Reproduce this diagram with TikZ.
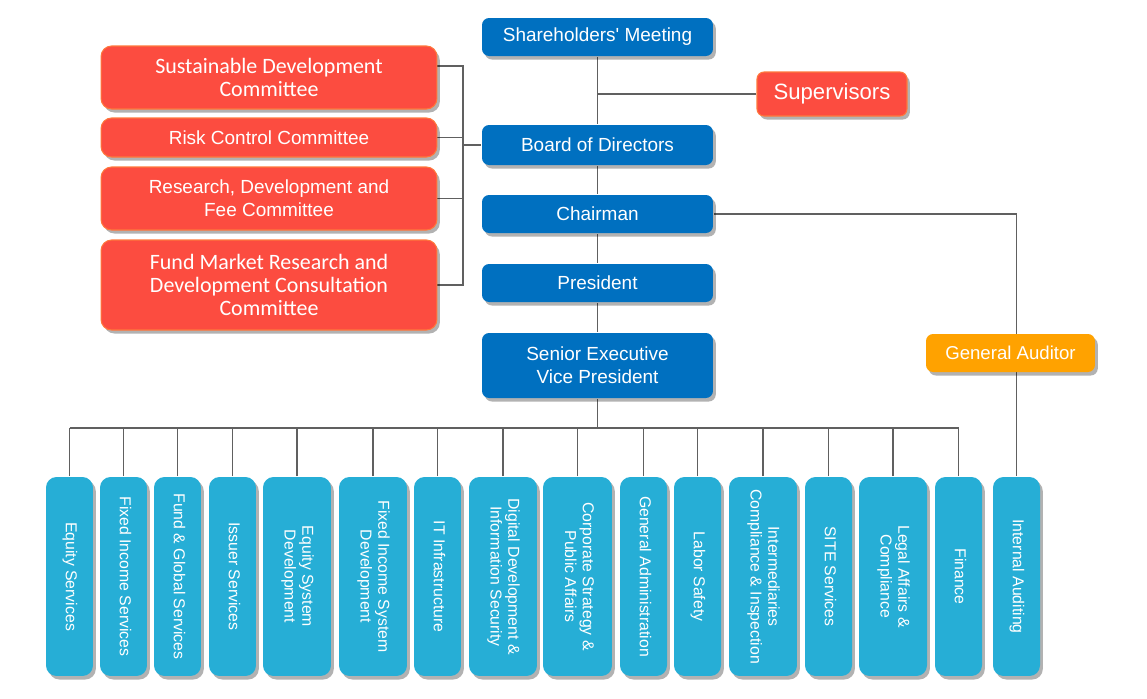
\documentclass[tikz,border=0pt]{standalone}
\usepackage{graphicx}
\usepackage{fontspec}
\setmainfont{Liberation Sans}
\newfontfamily\calfont{Carlito}
\usetikzlibrary{shadows, backgrounds}

\definecolor{topblue}{RGB}{0,112,192}
\definecolor{comred}{RGB}{252,76,64}
\definecolor{comedge}{RGB}{255,120,60}
\definecolor{audorange}{RGB}{255,162,0}
\definecolor{deptblue}{RGB}{38,174,214}
\definecolor{linkgray}{RGB}{96,96,96}

\begin{document}
\begin{tikzpicture}[
            x = 0.02cm,
            y = -0.02cm,
            line width = 1pt
        ]

        \tikzstyle{box}=[
            rectangle,
            rounded corners = 4pt,
            inner sep = 0pt,
            text = white,
            align = center,
            drop shadow = {shadow xshift=1.6pt, shadow yshift=-2pt, fill=black, opacity=.3}
        ]
        \tikzstyle{head}=[box, fill=topblue, minimum width=4.62cm, font=\fontsize{10.8}{13}\selectfont]
        \tikzstyle{comm}=[box, fill=comred, draw=comedge, line width=.6pt, rounded corners=6pt,
            minimum width=6.72cm, font=\fontsize{10.8}{13}\selectfont]
        \tikzstyle{dept}=[box, fill=deptblue, rounded corners=6pt, minimum height=3.98cm,
            font=\fontsize{9}{10}\selectfont]
        \tikzstyle{link}=[draw=linkgray, line width=1pt]

        \useasboundingbox (0,0) rectangle (1147,698);

        % main line
        \node[head, minimum height=0.76cm] (share) at (597.5,37) {Shareholders\textquotesingle\ Meeting};
        \node[box, fill=comred, draw=comedge, line width=.6pt, minimum width=3cm, minimum height=0.88cm,
            font=\fontsize{12.6}{15}\selectfont] (supv) at (832,94) {Supervisors};
        \node[head, minimum height=0.8cm] (board) at (597.5,145) {Board of Directors};
        \node[head, minimum height=0.76cm] (chair) at (597.5,214) {Chairman};
        \node[head, minimum height=0.76cm] (pres) at (597.5,283) {President};
        \node[head, minimum height=1.3cm] (sevp) at (597.5,365.5) {Senior Executive\\Vice President};

        % committees
        \node[comm, minimum height=1.26cm, font=\calfont\fontsize{12.5}{13}\selectfont] (sdc) at (269,77.5)
            {Sustainable Development\\Committee};
        \node[comm, minimum height=0.78cm] (rcc) at (269,137.5) {Risk Control Committee};
        \node[comm, minimum height=1.26cm] (rdc) at (269,198.5) {Research, Development and\\Fee Committee};
        \node[comm, minimum height=1.8cm, font=\calfont\fontsize{12.5}{13}\selectfont] (fmc) at (269,285)
            {Fund Market Research and\\Development Consultation\\Committee};

        \node[box, fill=audorange, minimum width=3.38cm, minimum height=0.76cm,
            font=\fontsize{10.6}{13}\selectfont] (ga) at (1010.5,353) {General Auditor};

        % departments
        \foreach \i/\x/\w/\txt in {
                1/69.5/0.94/Equity Services,
                2/123.5/0.94/Fixed Income Services,
                3/177.5/0.94/Fund \& Global Services,
                4/232.5/0.94/Issuer Services,
                5/297/1.36/Equity System\\Development,
                6/373/1.36/Fixed Income System\\Development,
                7/437.5/0.94/IT Infrastructure,
                8/503/1.36/Digital Development \&\\Information Security,
                9/577.5/1.38/Corporate Strategy \&\\Public Affairs,
                10/643.5/0.94/General Administration,
                11/697.5/0.94/Labor Safety,
                12/763/1.36/Intermediaries\\Compliance \& Inspection,
                13/828.5/0.94/SITE Services,
                14/893/1.36/Legal Affairs \&\\Compliance,
                15/958.5/0.94/Finance,
                16/1016.5/0.94/Internal Auditing}
            \node[dept, minimum width=\w cm] (b\i) at (\x,576.5)
                {\rotatebox{-90}{\begin{tabular}{@{}c@{}}\txt\end{tabular}}};

        \begin{scope}[on background layer]
            \fill[white] (0,0) rectangle (1147,698);

            \draw[link] (share) -- (board) -- (chair) -- (pres) -- (sevp);
            \draw[link] (supv.west) -- (supv.west -| share.south);
            \draw[link] (chair.east) -| (b16.north);

            \coordinate (brk) at (463,145);
            \draw[link] ([yshift=0.23cm]sdc.east) -| (brk) |- (fmc.east);
            \draw[link] (rcc.east) -| (brk);
            \draw[link] (rdc.east) -| (brk);
            \draw[link] (brk) -- (board.west);

            \coordinate (bus) at (597.5,428);
            \draw[link] (sevp) -- (bus);
            \draw[link] (b1.north |- bus) -- (b15.north |- bus);
            \foreach \i in {1,...,15}
                \draw[link] (b\i.north) -- (b\i.north |- bus);
        \end{scope}

    \end{tikzpicture}
\end{document}
